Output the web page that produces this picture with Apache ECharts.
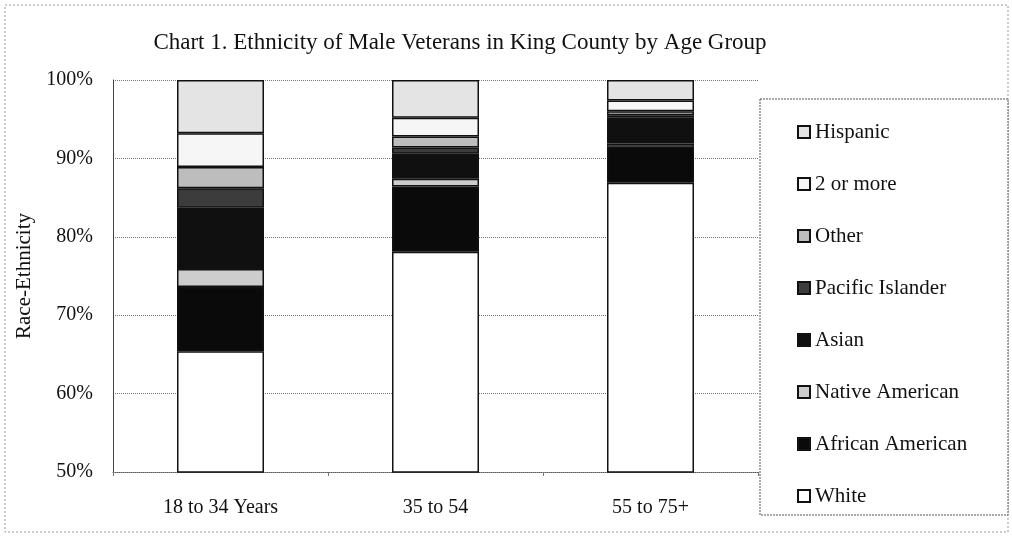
<!DOCTYPE html>
<html>
<head>
<meta charset="utf-8">
<script src="https://cdn.jsdelivr.net/npm/echarts@6/dist/echarts.min.js"></script>
<style>
  html, body { margin: 0; padding: 0; background: #fff; }
  #chart { width: 1012px; height: 545px; }
</style>
</head>
<body>
<div id="chart"></div>
<script>
// age groups
const ageGroups = ['18 to 34 Years', '35 to 54', '55 to 75+'];
// percent of each group, bottom to top
const white = [65.4, 78.1, 86.9];
const africanAmerican = [8.2, 8.3, 4.6];
const nativeAmerican = [2.3, 1.0, 0.4];
const asian = [7.8, 3.2, 3.3];
const pacificIslander = [2.5, 0.8, 0.3];
const other = [2.7, 1.4, 0.5];
const twoOrMore = [4.3, 2.4, 1.4];
const hispanic = [6.8, 4.8, 2.6];

const yTicks = { min: 50, max: 100, interval: 10 };

const chart = echarts.init(document.getElementById('chart'));
window.addEventListener('resize', () => { chart.resize(); });

const serif = '"Liberation Serif", "DejaVu Serif", serif';

function seg (name, data, color) {
  return {
    name: name,
    type: 'bar',
    stack: 'total',
    barWidth: 87,
    data: data,
    itemStyle: {
      color: color,
      borderColor: '#111',
      borderWidth: 1.5
    },
    emphasis: { disabled: true }
  };
}

chart.setOption({
  animation: false,
  backgroundColor: '#fff',
  title: {
    text: 'Chart 1. Ethnicity of Male Veterans in King County by Age Group',
    left: 455,
    textAlign: 'center',
    top: 26,
    textStyle: {
      fontFamily: serif,
      fontWeight: 'normal',
      fontSize: 23,
      color: '#111'
    }
  },
  graphic: [
    {
      type: 'rect',
      shape: { x: 5, y: 5, width: 1003, height: 527 },
      style: { fill: null, stroke: '#999', lineWidth: 1, lineDash: [2, 2] },
      z: -1
    },
    {
      type: 'rect',
      shape: { x: 760, y: 99, width: 248, height: 416 },
      style: { fill: '#fff', stroke: '#555', lineWidth: 1, lineDash: [2, 1] },
      z: 5
    }
  ],
  legend: {
    orient: 'vertical',
    left: 792,
    top: 116,
    z: 10,
    itemWidth: 12,
    itemHeight: 12,
    itemGap: 30,
    icon: 'rect',
    data: ['Hispanic', '2 or more', 'Other', 'Pacific Islander', 'Asian',
      'Native American', 'African American', 'White'],
    textStyle: {
      fontFamily: serif,
      fontSize: 21,
      color: '#111',
      lineHeight: 22
    }
  },
  grid: {
    left: 113,
    right: 254,
    top: 80,
    bottom: 73
  },
  xAxis: {
    type: 'category',
    data: ageGroups,
    axisLine: { lineStyle: { color: '#555', type: 'dotted' } },
    axisTick: { show: true, length: 4, lineStyle: { color: '#777' } },
    axisLabel: {
      margin: 26,
      fontFamily: serif,
      fontSize: 20,
      color: '#111'
    }
  },
  yAxis: {
    type: 'value',
    min: yTicks.min,
    max: yTicks.max,
    interval: yTicks.interval,
    name: 'Race-Ethnicity',
    nameLocation: 'middle',
    nameGap: 78,
    nameTextStyle: {
      fontFamily: serif,
      fontSize: 21,
      color: '#111'
    },
    axisLine: { show: true, lineStyle: { color: '#444' } },
    axisTick: { show: false },
    splitLine: { lineStyle: { color: '#777', type: 'dotted' } },
    axisLabel: {
      formatter: '{value}%',
      margin: 20,
      fontFamily: serif,
      fontSize: 20,
      color: '#111'
    }
  },
  series: [
    seg('White', white, '#ffffff'),
    seg('African American', africanAmerican, '#0a0a0a'),
    seg('Native American', nativeAmerican, '#cdcdcd'),
    seg('Asian', asian, '#101010'),
    seg('Pacific Islander', pacificIslander, '#3c3c3c'),
    seg('Other', other, '#bdbdbd'),
    seg('2 or more', twoOrMore, '#f6f6f6'),
    seg('Hispanic', hispanic, '#e4e4e4')
  ]
});
</script>
</body>
</html>
